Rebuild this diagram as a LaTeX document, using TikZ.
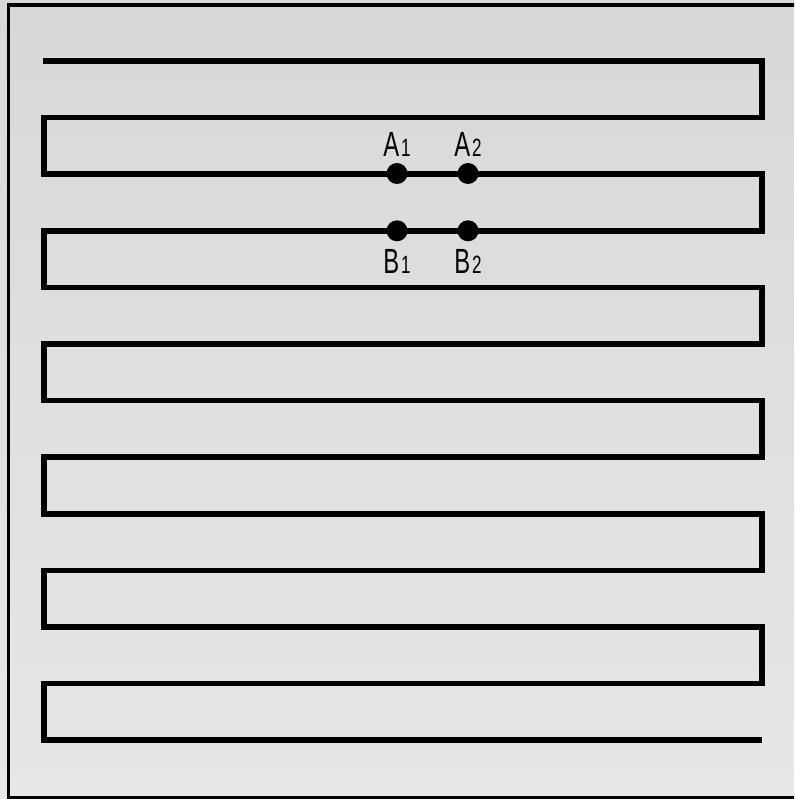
\documentclass[tikz,border=0pt]{standalone}
\usepackage{fontspec}
\newfontfamily\narrowfont[FakeStretch=0.68]{Liberation Sans}
\usetikzlibrary{positioning}
\definecolor{bgtop}{RGB}{216,216,216}
\definecolor{bgbottom}{RGB}{231,231,231}
\newcommand{\idx}[1]{\hspace{2pt}{\fontsize{25}{25}\selectfont #1}}

\begin{document}
\begin{tikzpicture}[x=1pt, y=-1pt,
	dot/.style={circle, fill=black, minimum size=21pt, inner sep=0pt},
	lbl/.style={font=\narrowfont\fontsize{35}{35}\selectfont, inner sep=0pt}]
	\clip (0, 0) rectangle (794, 799);
	\shade[top color=bgtop, bottom color=bgbottom] (0, 0) rectangle (794, 799);
	\draw[line width=3.5pt] (8.5, 5) rectangle (800, 798);

	% meander
	\draw[line width=5.5pt] (43, 61) -- (762, 61) -- (762, 117.6) -- (44, 117.6)
		-- (44, 174.2) -- (762, 174.2) -- (762, 230.8) -- (44, 230.8)
		-- (44, 287.4) -- (762, 287.4) -- (762, 344) -- (44, 344)
		-- (44, 400.6) -- (762, 400.6) -- (762, 457.2) -- (44, 457.2)
		-- (44, 513.8) -- (762, 513.8) -- (762, 570.4) -- (44, 570.4)
		-- (44, 627) -- (762, 627) -- (762, 683.6) -- (44, 683.6)
		-- (44, 740.2) -- (762, 740.2);

	% points
	\node[dot] (A1) at (397, 173.5) {};
	\node[dot] (A2) at (468, 173.5) {};
	\node[dot] (B1) at (397, 230.8) {};
	\node[dot] (B2) at (468, 230.8) {};

	\node[lbl, above=6pt of A1] (A1lbl) {A\idx{1}};
	\node[lbl, above=6pt of A2] (A2lbl) {A\idx{2}};
	\node[lbl, below=8pt of B1] (B1lbl) {B\idx{1}};
	\node[lbl, below=8pt of B2] (B2lbl) {B\idx{2}};
\end{tikzpicture}
\end{document}
